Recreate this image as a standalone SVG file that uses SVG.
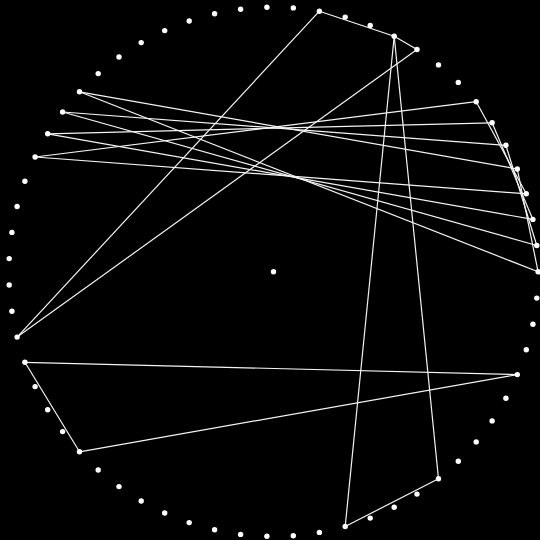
<svg xmlns="http://www.w3.org/2000/svg" width="540" height="540" viewBox="0 0 540 540">
<style>
.e{stroke:#f4f4f4;stroke-width:1.2;fill:none}
.n{fill:#fff}
</style>
<rect width="540" height="540" fill="#000"/>
<g id="connectors">
<line class="e" x1="319.4" y1="11.2" x2="394.2" y2="36.3"/>
<line class="e" x1="394.2" y1="36.3" x2="417.0" y2="49.5"/>
<line class="e" x1="319.4" y1="11.2" x2="17.1" y2="337.1"/>
<line class="e" x1="417.0" y1="49.5" x2="17.1" y2="337.1"/>
<line class="e" x1="394.2" y1="36.3" x2="345.2" y2="526.5"/>
<line class="e" x1="394.2" y1="36.3" x2="438.5" y2="478.7"/>
<line class="e" x1="438.5" y1="478.7" x2="345.2" y2="526.5"/>
<line class="e" x1="24.9" y1="362.3" x2="517.3" y2="374.6"/>
<line class="e" x1="24.9" y1="362.3" x2="79.5" y2="451.8"/>
<line class="e" x1="79.5" y1="451.8" x2="517.3" y2="374.6"/>
<line class="e" x1="35.1" y1="157.0" x2="476.2" y2="101.7"/>
<line class="e" x1="35.1" y1="157.0" x2="526.3" y2="193.8"/>
<line class="e" x1="47.7" y1="133.8" x2="492.1" y2="122.8"/>
<line class="e" x1="47.7" y1="133.8" x2="532.9" y2="219.4"/>
<line class="e" x1="62.6" y1="112.0" x2="505.9" y2="145.3"/>
<line class="e" x1="62.6" y1="112.0" x2="536.8" y2="245.5"/>
<line class="e" x1="79.5" y1="91.8" x2="517.3" y2="169.0"/>
<line class="e" x1="79.5" y1="91.8" x2="538.1" y2="271.8"/>
<line class="e" x1="476.2" y1="101.7" x2="526.3" y2="193.8"/>
<line class="e" x1="492.1" y1="122.8" x2="532.9" y2="219.4"/>
<line class="e" x1="505.9" y1="145.3" x2="536.8" y2="245.5"/>
<line class="e" x1="517.3" y1="169.0" x2="538.1" y2="271.8"/>
</g>
<g id="nc"><circle class="n" cx="273.5" cy="271.7" r="2.7"/></g>
<g id="n0"><circle class="n" cx="538.1" cy="271.8" r="2.7"/></g>
<g id="n1"><circle class="n" cx="536.8" cy="298.1" r="2.7"/></g>
<g id="n2"><circle class="n" cx="532.9" cy="324.2" r="2.7"/></g>
<g id="n3"><circle class="n" cx="526.3" cy="349.8" r="2.7"/></g>
<g id="n4"><circle class="n" cx="517.3" cy="374.6" r="2.7"/></g>
<g id="n5"><circle class="n" cx="505.9" cy="398.3" r="2.7"/></g>
<g id="n6"><circle class="n" cx="492.1" cy="420.9" r="2.7"/></g>
<g id="n7"><circle class="n" cx="476.2" cy="441.9" r="2.7"/></g>
<g id="n8"><circle class="n" cx="458.3" cy="461.2" r="2.7"/></g>
<g id="n9"><circle class="n" cx="438.5" cy="478.7" r="2.7"/></g>
<g id="n10"><circle class="n" cx="417.0" cy="494.1" r="2.7"/></g>
<g id="n11"><circle class="n" cx="394.2" cy="507.3" r="2.7"/></g>
<g id="n12"><circle class="n" cx="370.2" cy="518.1" r="2.7"/></g>
<g id="n13"><circle class="n" cx="345.2" cy="526.5" r="2.7"/></g>
<g id="n14"><circle class="n" cx="319.4" cy="532.4" r="2.7"/></g>
<g id="n15"><circle class="n" cx="293.3" cy="535.7" r="2.7"/></g>
<g id="n16"><circle class="n" cx="266.9" cy="536.3" r="2.7"/></g>
<g id="n17"><circle class="n" cx="240.6" cy="534.4" r="2.7"/></g>
<g id="n18"><circle class="n" cx="214.6" cy="529.8" r="2.7"/></g>
<g id="n19"><circle class="n" cx="189.2" cy="522.6" r="2.7"/></g>
<g id="n20"><circle class="n" cx="164.7" cy="513.0" r="2.7"/></g>
<g id="n21"><circle class="n" cx="141.2" cy="501.0" r="2.7"/></g>
<g id="n22"><circle class="n" cx="119.0" cy="486.6" r="2.7"/></g>
<g id="n23"><circle class="n" cx="98.2" cy="470.0" r="2.7"/></g>
<g id="n24"><circle class="n" cx="79.5" cy="451.8" r="2.7"/></g>
<g id="n25"><circle class="n" cx="62.6" cy="431.6" r="2.7"/></g>
<g id="n26"><circle class="n" cx="47.7" cy="409.8" r="2.7"/></g>
<g id="n27"><circle class="n" cx="35.1" cy="386.6" r="2.7"/></g>
<g id="n28"><circle class="n" cx="24.9" cy="362.3" r="2.7"/></g>
<g id="n29"><circle class="n" cx="17.1" cy="337.1" r="2.7"/></g>
<g id="n30"><circle class="n" cx="11.9" cy="311.2" r="2.7"/></g>
<g id="n31"><circle class="n" cx="9.2" cy="285.0" r="2.7"/></g>
<g id="n32"><circle class="n" cx="9.2" cy="258.6" r="2.7"/></g>
<g id="n33"><circle class="n" cx="11.9" cy="232.4" r="2.7"/></g>
<g id="n34"><circle class="n" cx="17.1" cy="206.5" r="2.7"/></g>
<g id="n35"><circle class="n" cx="24.9" cy="181.3" r="2.7"/></g>
<g id="n36"><circle class="n" cx="35.1" cy="157.0" r="2.7"/></g>
<g id="n37"><circle class="n" cx="47.7" cy="133.8" r="2.7"/></g>
<g id="n38"><circle class="n" cx="62.6" cy="112.0" r="2.7"/></g>
<g id="n39"><circle class="n" cx="79.5" cy="91.8" r="2.7"/></g>
<g id="n40"><circle class="n" cx="98.2" cy="73.6" r="2.7"/></g>
<g id="n41"><circle class="n" cx="119.0" cy="57.0" r="2.7"/></g>
<g id="n42"><circle class="n" cx="141.2" cy="42.6" r="2.7"/></g>
<g id="n43"><circle class="n" cx="164.7" cy="30.6" r="2.7"/></g>
<g id="n44"><circle class="n" cx="189.2" cy="21.0" r="2.7"/></g>
<g id="n45"><circle class="n" cx="214.6" cy="13.8" r="2.7"/></g>
<g id="n46"><circle class="n" cx="240.6" cy="9.2" r="2.7"/></g>
<g id="n47"><circle class="n" cx="266.9" cy="7.3" r="2.7"/></g>
<g id="n48"><circle class="n" cx="293.3" cy="7.9" r="2.7"/></g>
<g id="n49"><circle class="n" cx="319.4" cy="11.2" r="2.7"/></g>
<g id="n50"><circle class="n" cx="345.2" cy="17.1" r="2.7"/></g>
<g id="n51"><circle class="n" cx="370.2" cy="25.5" r="2.7"/></g>
<g id="n52"><circle class="n" cx="394.2" cy="36.3" r="2.7"/></g>
<g id="n53"><circle class="n" cx="417.0" cy="49.5" r="2.7"/></g>
<g id="n54"><circle class="n" cx="438.5" cy="64.9" r="2.7"/></g>
<g id="n55"><circle class="n" cx="458.3" cy="82.4" r="2.7"/></g>
<g id="n56"><circle class="n" cx="476.2" cy="101.7" r="2.7"/></g>
<g id="n57"><circle class="n" cx="492.1" cy="122.8" r="2.7"/></g>
<g id="n58"><circle class="n" cx="505.9" cy="145.3" r="2.7"/></g>
<g id="n59"><circle class="n" cx="517.3" cy="169.0" r="2.7"/></g>
<g id="n60"><circle class="n" cx="526.3" cy="193.8" r="2.7"/></g>
<g id="n61"><circle class="n" cx="532.9" cy="219.4" r="2.7"/></g>
<g id="n62"><circle class="n" cx="536.8" cy="245.5" r="2.7"/></g>
</svg>
